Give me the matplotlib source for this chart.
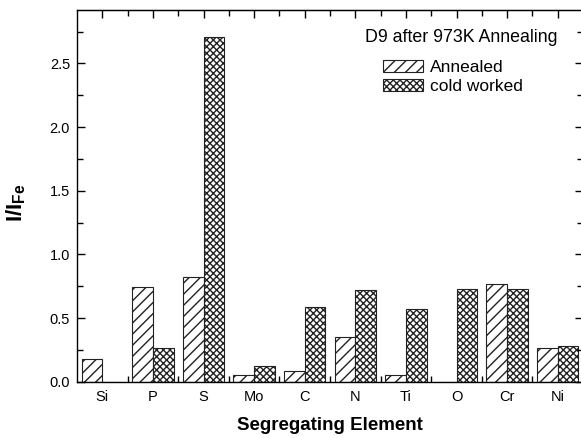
import numpy as np
from matplotlib import pyplot as plt
from matplotlib.patches import Patch

plt.rcParams['font.family'] = ['Liberation Sans', 'DejaVu Sans']
plt.rcParams['mathtext.fontset'] = 'custom'
plt.rcParams['mathtext.rm'] = 'Liberation Sans'
plt.rcParams['mathtext.bf'] = 'Liberation Sans:bold'
plt.rcParams['hatch.linewidth'] = 1.0

# Data
elements = ['Si', 'P', 'S', 'Mo', 'C', 'N', 'Ti', 'O', 'Cr', 'Ni']
annealed = [0.177, 0.744, 0.823, 0.055, 0.084, 0.349, 0.050, 0.0, 0.770, 0.266]
cold_worked = [0.0, 0.266, 2.708, 0.121, 0.585, 0.721, 0.569, 0.729, 0.730, 0.284]

BAR_W = 0.41
W, H = 581, 438
EDGE = '#222222'
COLD_HATCH = 'xxxxx'

fig = plt.figure(figsize = (W / 100, H / 100), dpi = 100)
ax = fig.add_axes([77 / W, 56.3 / H, 506 / W, 371.7 / H])

x = np.arange(len(elements))
ax.bar(x - BAR_W / 2, annealed, width = BAR_W, color = 'white', edgecolor = EDGE,
       linewidth = 0.8, hatch = '///')
ax.bar(x + BAR_W / 2, cold_worked, width = BAR_W, color = 'white', edgecolor = EDGE,
       linewidth = 0.8, hatch = COLD_HATCH)

ax.set_xlim(-0.5, len(elements) - 0.5)
ax.set_ylim(0, 2.92)

# bottom: labels at centres, ticks at group boundaries
ax.set_xticks(x)
ax.set_xticklabels(elements, fontsize = 10.5)
ax.set_xticks(x[:-1] + 0.5, minor = True)
ax.tick_params(axis = 'x', which = 'major', length = 0, pad = 6)
ax.tick_params(axis = 'x', which = 'minor', direction = 'in', length = 4, width = 1)

# top: ticks at centres (major) and boundaries (minor)
top = ax.secondary_xaxis('top')
top.set_xticks(x)
top.set_xticks(x[:-1] + 0.5, minor = True)
top.set_xticklabels([])
top.tick_params(which = 'major', direction = 'in', length = 6, width = 1)
top.tick_params(which = 'minor', direction = 'in', length = 4, width = 1)

ax.set_yticks(np.arange(0, 2.6, 0.5))
ax.set_yticks(np.arange(0, 2.9, 0.25), minor = True)
ax.set_yticklabels(['0.0', '0.5', '1.0', '1.5', '2.0', '2.5'], fontsize = 10.5)
ax.tick_params(axis = 'y', which = 'major', direction = 'in', length = 6, width = 1,
               right = True, pad = 5)
ax.tick_params(axis = 'y', which = 'minor', direction = 'in', length = 4, width = 1,
               right = True)

for s in ax.spines.values():
  s.set_linewidth(1.0)

ax.set_xlabel('Segregating Element', fontsize = 13.5, fontweight = 'bold', labelpad = 9)
ax.set_ylabel(r'$\mathbf{I/I_{Fe}}$', fontsize = 16)
ax.yaxis.set_label_coords((28 - 77) / 506, (381.7 - 203) / 371.7)

fig.text(365 / W, 1 - 37 / H, 'D9 after 973K Annealing', fontsize = 12.8,
         ha = 'left', va = 'center')

handles = [Patch(facecolor = 'white', edgecolor = EDGE, hatch = '///', linewidth = 0.8),
           Patch(facecolor = 'white', edgecolor = EDGE, hatch = COLD_HATCH, linewidth = 0.8)]
fig.legend(handles, ['Annealed', 'cold worked'], loc = 'upper left',
           bbox_to_anchor = (383 / W, 1 - 60 / H),
           frameon = False, fontsize = 12.5, handlelength = 2.3, handleheight = 0.72,
           handletextpad = 0.4, labelspacing = 0.22, borderpad = 0, borderaxespad = 0)

fig.savefig('out.png', dpi = 100)
